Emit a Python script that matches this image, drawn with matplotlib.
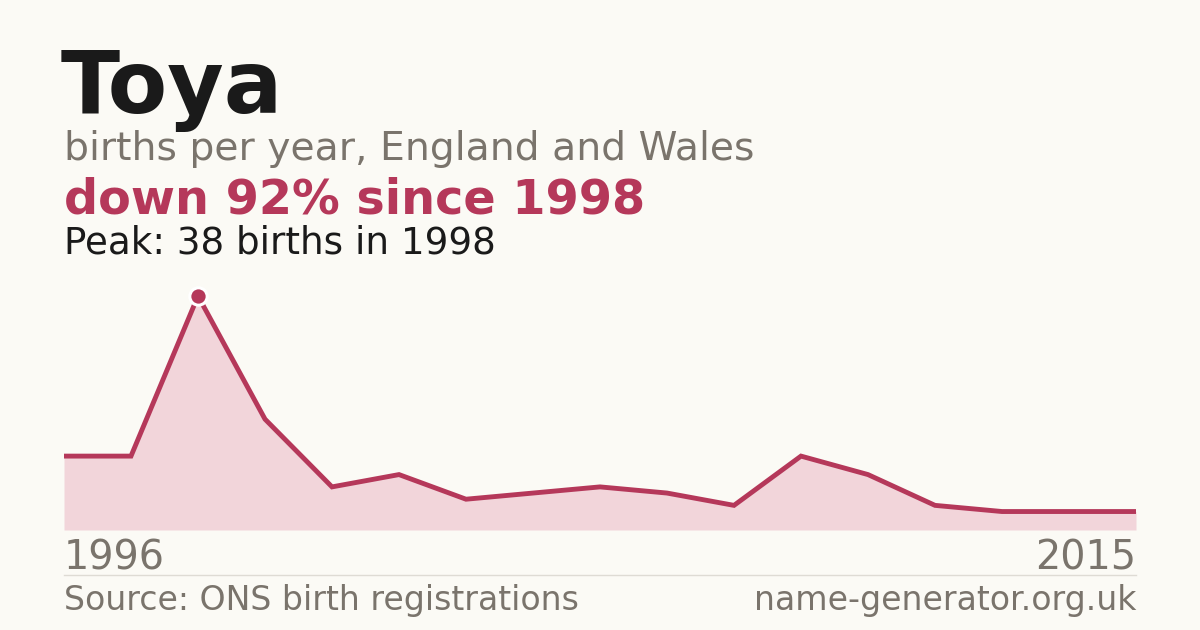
import matplotlib.pyplot as plt
import numpy as np

# births per year (one value per recorded year, first = 1996, last = 2015)
births = [12, 12, 38, 18, 7, 9, 5, 6, 7, 6, 4, 12, 9, 4, 3, 3, 3]
first_year = "1996"
last_year = "2015"
peak_idx = 2

title = "Toya"
subtitle = "births per year, England and Wales"
headline = "down 92% since 1998"
peak_text = "Peak: 38 births in 1998"
source = "Source: ONS birth registrations"
site = "name-generator.org.uk"

BG = "#fbfaf5"
RED = "#b5385a"
FILL = "#f2d5da"
GREY = "#7a746c"
DARK = "#1a1a1a"

W, H = 1200, 630
fig = plt.figure(figsize=(12, 6.3), dpi=100, facecolor=BG)

def px(x, y):
    return x / W, 1 - y / H

# chart area
ax = fig.add_axes([64 / W, (H - 530) / H, 1072 / W, (530 - 296) / H])
ax.set_facecolor(BG)
xs = np.arange(len(births))
ax.fill_between(xs, births, 0, color=FILL, lw=0)
ax.plot(xs, births, color=RED, lw=3.5, solid_joinstyle="miter", solid_capstyle="butt")
ax.plot(xs[peak_idx], births[peak_idx], "o", ms=12.5, color=RED,
        mec="white", mew=2.2, clip_on=False, zorder=5)
ax.set_xlim(0, len(births) - 1)
ax.set_ylim(0, max(births))
ax.axis("off")

# texts
fig.text(*px(61, 113), title, fontsize=62.5, fontweight="bold", color=DARK, va="baseline")
fig.text(*px(64, 160), subtitle, fontsize=28.3, color=GREY, va="baseline")
fig.text(*px(64, 214), headline, fontsize=34.4, fontweight="bold", color=RED, va="baseline")
fig.text(*px(64, 254), peak_text, fontsize=26.8, color=DARK, va="baseline")

fig.text(*px(64, 569), first_year, fontsize=28.6, color=GREY, va="baseline")
fig.text(*px(1136, 569), last_year, fontsize=28.6, color=GREY, va="baseline", ha="right")

# divider
fig.add_artist(plt.Line2D([64 / W, 1136 / W], [1 - 575 / H, 1 - 575 / H],
                          color="#dedbd4", lw=1))

fig.text(*px(64, 610), source, fontsize=23.9, color=GREY, va="baseline")
fig.text(*px(1136, 610), site, fontsize=23.9, color=GREY, va="baseline", ha="right")

fig.savefig("out.png", dpi=100, facecolor=BG)
